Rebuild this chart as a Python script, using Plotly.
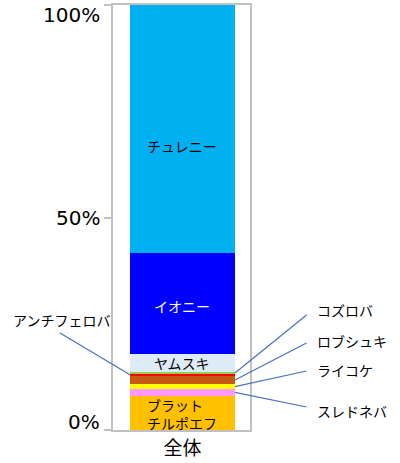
import plotly.graph_objects as go

categories = ["全体"]
series_names = ["ブラット<br>チルポエフ", "スレドネバ", "ライコケ", "ロブシュキ",
                "アンチフェロバ", "コズロバ", "ヤムスキ", "イオニー", "チュレニー"]
values = [8.1, 1.5, 1.2, 1.9, 0.6, 0.25, 4.35, 23.7, 58.4]
colors = ["#FFC000", "#FF99FF", "#FFFF00", "#C55A11", "#FF0000",
          "#92D050", "#DDEBF7", "#0000FF", "#00B0F0"]
tick_vals = [0, 50, 100]
tick_text = ["0%", "50%", "100%"]

BAR_W = 0.766
XR = [-0.507, 0.493]
JP = "Noto Sans CJK JP"

fig = go.Figure()
for name, v, c in zip(series_names, values, colors):
    fig.add_trace(go.Bar(x=categories, y=[v], name=name, marker=dict(color=c, line=dict(width=0)),
                         width=BAR_W, hoverinfo="skip"))

# cumulative positions
bottoms = []
acc = 0
for v in values:
    bottoms.append(acc)
    acc += v
mids = [b + v / 2 for b, v in zip(bottoms, values)]

def xpaper(xd):
    return (xd - XR[0]) / (XR[1] - XR[0])

right_edge = xpaper(BAR_W / 2)
left_edge = xpaper(-BAR_W / 2)

annotations = []
shapes = []

# y tick labels (extremes nudged inward like the reference)
tick_shift = {0: 8, 50: 0, 100: -10}
for tv, tt in zip(tick_vals, tick_text):
    annotations.append(dict(x=0, y=tv, xref="paper", yref="y", text=tt, showarrow=False,
                            xanchor="right", yanchor="middle", xshift=-11, yshift=tick_shift[tv],
                            font=dict(family="DejaVu Sans", size=20, color="#000000")))

# inside labels
inside = {
    "チュレニー": dict(color="#000000", yshift=-17),
    "イオニー": dict(color="#FFFFFF", yshift=-2),
    "ヤムスキ": dict(color="#000000", yshift=0),
    "ブラット<br>チルポエフ": dict(color="#000000", yshift=-1),
}
for i, name in enumerate(series_names):
    if name in inside:
        annotations.append(dict(x=0, y=mids[i], xref="x", yref="y", text=name, showarrow=False,
                                align="left", yshift=inside[name]["yshift"],
                                font=dict(family=JP, size=14, color=inside[name]["color"])))

# outside labels with leader lines (positions in paper coords)
def py2paper(py):
    return (430 - py) / 425

def px2paper(px):
    return (px - 113) / 137

outside = {
    "コズロバ": dict(text_xy=(315, 310), start=(306.5, 315), side="right"),
    "ロブシュキ": dict(text_xy=(315, 341), start=(306.5, 343), side="right"),
    "ライコケ": dict(text_xy=(315, 370), start=(306.5, 371), side="right"),
    "スレドネバ": dict(text_xy=(315, 411), start=(306.5, 407), side="right"),
    "アンチフェロバ": dict(text_xy=(112, 320), start=(60, 333), side="left"),
}
for i, name in enumerate(series_names):
    if name in outside:
        o = outside[name]
        tx, ty = o["text_xy"]
        sx, sy = o["start"]
        ex = right_edge if o["side"] == "right" else left_edge
        annotations.append(dict(x=px2paper(tx), y=py2paper(ty), xref="paper", yref="paper",
                                text=name, showarrow=False,
                                xanchor="left" if o["side"] == "right" else "right",
                                yanchor="middle",
                                font=dict(family=JP, size=14, color="#000000")))
        shapes.append(dict(type="line", xref="paper", yref="paper",
                           x0=px2paper(sx), y0=py2paper(sy), x1=ex, y1=mids[i] / 100,
                           line=dict(color="#4472C4", width=1.2)))

fig.update_layout(
    barmode="stack",
    width=400, height=463,
    margin=dict(l=113, r=150, t=5, b=33),
    paper_bgcolor="white", plot_bgcolor="white",
    showlegend=False,
    annotations=annotations,
    shapes=shapes,
    xaxis=dict(range=XR, showline=True, mirror=True, linecolor="#C0C0C0", linewidth=2,
               showgrid=False, ticks="", ticklabelstandoff=0, automargin=False,
               tickfont=dict(family=JP, size=19, color="#000000"),
               zeroline=False, fixedrange=True),
    yaxis=dict(range=[0, 100], tickvals=tick_vals, showticklabels=False, showline=True, mirror=True,
               linecolor="#C0C0C0", linewidth=2, showgrid=False, ticks="outside", ticklen=7,
               tickwidth=2, tickcolor="#C0C0C0", zeroline=False, fixedrange=True, automargin=False),
)

fig.write_html("out.html")
